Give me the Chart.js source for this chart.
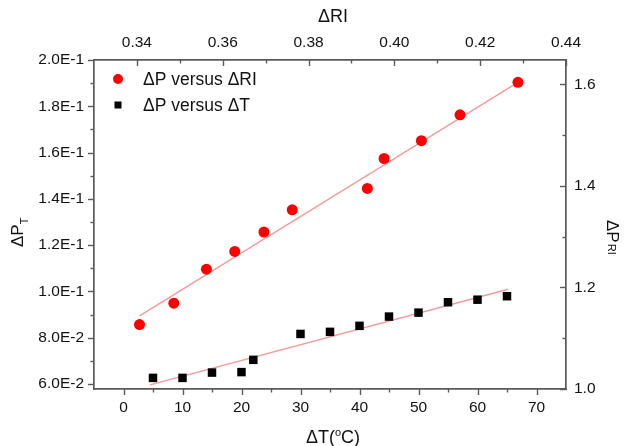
<!DOCTYPE html>
<html>
<head>
<meta charset="utf-8">
<script src="https://cdn.jsdelivr.net/npm/chart.js@4.4.1/dist/chart.umd.min.js"></script>
<style>
html,body{margin:0;padding:0;background:#fff;}
#wrap{width:624px;height:446px;position:relative;}
</style>
</head>
<body>
<div id="wrap"><canvas id="c" width="624" height="446"></canvas></div>
<script>
// ---- data ----
const seriesLabels = ['\u0394P versus \u0394RI', '\u0394P versus \u0394T'];
const riValues  = [0.3406, 0.3486, 0.3562, 0.3628, 0.3696, 0.3762, 0.3937, 0.3976, 0.4063, 0.4153, 0.4288];
const pRiValues = [1.127, 1.169, 1.236, 1.271, 1.309, 1.353, 1.395, 1.454, 1.489, 1.540, 1.604];
const tValues   = [5, 10, 15, 20, 22, 30, 35, 40, 45, 50, 55, 60, 65];
const pTValues  = [0.0626, 0.0626, 0.0649, 0.0651, 0.0704, 0.0816, 0.0825, 0.0851, 0.0891, 0.0908, 0.0953, 0.0964, 0.0979];
const riFitX = [0.3406, 0.4286];
const riFitY = [1.144, 1.603];
const tFitX  = [4.5, 65.2];
const tFitY  = [0.0596, 0.1009];

// ---- tick labels ----
const bottomTicks = [0, 10, 20, 30, 40, 50, 60, 70];
const bottomMinor = [5, 15, 25, 35, 45, 55, 65];
const topTicks    = [0.34, 0.36, 0.38, 0.40, 0.42, 0.44];
const topMinor    = [0.35, 0.37, 0.39, 0.41, 0.43];
const leftTicks   = [0.06, 0.08, 0.10, 0.12, 0.14, 0.16, 0.18, 0.20];
const leftMinor   = [0.07, 0.09, 0.11, 0.13, 0.15, 0.17, 0.19];
const rightTicks  = [1.0, 1.2, 1.4, 1.6];
const rightMinor  = [1.1, 1.3, 1.5];

const FONT = '"Liberation Sans", Arial, Helvetica, sans-serif';
const AX = '#5a5a5a';
const TXT = '#111111';
const FIT = '#f59a9a';

const pts = (xs, ys) => xs.map((x, i) => ({x: x, y: ys[i]}));
const setTicks = arr => (s => { s.ticks = arr.map(v => ({value: v})); });

const tickFont = {family: FONT, size: 15.5};
function baseScale(extra) {
  return Object.assign({
    type: 'linear',
    grid: {display: false, drawTicks: false},
    border: {display: true, color: AX, width: 1.7},
  }, extra);
}

const decor = {
  id: 'decor',
  afterDraw(chart) {
    const ctx = chart.ctx, ca = chart.chartArea, S = chart.scales;
    ctx.save();
    ctx.strokeStyle = AX;
    ctx.lineWidth = 1.4;
    const MAJ = 6, MIN = 3.5;
    function vTick(sc, vals, len, dir, yEdge) {
      vals.forEach(v => {
        const x = Math.round(sc.getPixelForValue(v)) + 0.5;
        ctx.beginPath(); ctx.moveTo(x, yEdge); ctx.lineTo(x, yEdge + dir * len); ctx.stroke();
      });
    }
    function hTick(sc, vals, len, dir, xEdge) {
      vals.forEach(v => {
        const y = Math.round(sc.getPixelForValue(v)) + 0.5;
        ctx.beginPath(); ctx.moveTo(xEdge, y); ctx.lineTo(xEdge + dir * len, y); ctx.stroke();
      });
    }
    vTick(S.x, bottomTicks, MAJ, 1, ca.bottom);
    vTick(S.x, bottomMinor, MIN, 1, ca.bottom);
    vTick(S.xTop, topTicks, MAJ, 1, ca.top);
    vTick(S.xTop, topMinor, MIN, 1, ca.top);
    hTick(S.y, leftTicks, MAJ, -1, ca.left);
    hTick(S.y, leftMinor, MIN, -1, ca.left);
    hTick(S.yRight, rightTicks, MAJ, -1, ca.right);
    hTick(S.yRight, rightMinor, MIN, -1, ca.right);

    // axis titles
    ctx.fillStyle = TXT;
    ctx.textBaseline = 'alphabetic';
    ctx.font = '18px ' + FONT;
    ctx.textAlign = 'center';
    ctx.fillText('\u0394RI', 333, 22);

    const p1 = '\u0394T(', p2 = 'C)';
    ctx.font = '18px ' + FONT;
    const w1 = ctx.measureText(p1).width, w2 = ctx.measureText(p2).width;
    ctx.font = '11px ' + FONT;
    const wo = ctx.measureText('o').width;
    let sx = 333 - (w1 + wo + w2) / 2;
    const by = 443;
    ctx.textAlign = 'left';
    ctx.font = '18px ' + FONT; ctx.fillText(p1, sx, by); sx += w1;
    ctx.font = '11px ' + FONT; ctx.fillText('o', sx, by - 7); sx += wo;
    ctx.font = '18px ' + FONT; ctx.fillText(p2, sx, by);

    // left title ΔP_T
    ctx.save();
    ctx.translate(23, 247);
    ctx.rotate(-Math.PI / 2);
    ctx.font = '17px ' + FONT;
    ctx.fillText('\u0394P', 0, 0);
    const wl = ctx.measureText('\u0394P').width;
    ctx.font = '11px ' + FONT;
    ctx.fillText('T', wl, 5);
    ctx.restore();

    // right title ΔP_RI
    ctx.save();
    ctx.translate(607, 220);
    ctx.rotate(Math.PI / 2);
    ctx.font = '17px ' + FONT;
    ctx.fillText('\u0394P', 0, 0);
    const wr = ctx.measureText('\u0394P').width;
    ctx.font = '11px ' + FONT;
    ctx.fillText('RI', wr + 1, -1);
    ctx.restore();

    // legend
    const ds = chart.data.datasets;
    ctx.font = '17.5px ' + FONT;
    ctx.textBaseline = 'middle';
    ctx.textAlign = 'left';
    const rows = [{y: 79, d: ds[0]}, {y: 105, d: ds[1]}];
    rows.forEach(r => {
      ctx.fillStyle = r.d.backgroundColor;
      if (r.d.pointStyle === 'rect') {
        ctx.fillRect(118 - 3.5, r.y - 3.5, 7, 7);
      } else {
        ctx.beginPath(); ctx.arc(118, r.y, 5, 0, Math.PI * 2); ctx.fill();
      }
      ctx.fillStyle = TXT;
      ctx.fillText(r.d.label, 143, r.y + 1);
    });
    ctx.restore();
  }
};

new Chart(document.getElementById('c'), {
  type: 'scatter',
  data: {
    datasets: [
      {label: seriesLabels[0], data: pts(riValues, pRiValues), xAxisID: 'xTop', yAxisID: 'yRight',
       pointStyle: 'circle', pointRadius: 5.5, backgroundColor: '#ff0000', borderColor: '#ff0000', borderWidth: 0, order: 1},
      {label: seriesLabels[1], data: pts(tValues, pTValues), xAxisID: 'x', yAxisID: 'y',
       pointStyle: 'rect', pointRadius: 6, backgroundColor: '#000000', borderColor: '#000000', borderWidth: 0, order: 1},
      {label: 'fitRI', data: pts(riFitX, riFitY), xAxisID: 'xTop', yAxisID: 'yRight', showLine: true,
       pointRadius: 0, borderColor: FIT, borderWidth: 1.4, backgroundColor: FIT, order: 2},
      {label: 'fitT', data: pts(tFitX, tFitY), xAxisID: 'x', yAxisID: 'y', showLine: true,
       pointRadius: 0, borderColor: FIT, borderWidth: 1.4, backgroundColor: FIT, order: 2}
    ]
  },
  options: {
    responsive: false,
    animation: false,
    devicePixelRatio: 1,
    layout: {padding: 0},
    plugins: {legend: {display: false}, tooltip: {enabled: false}},
    scales: {
      x: baseScale({position: 'bottom', min: -5, max: 75,
        afterBuildTicks: setTicks(bottomTicks),
        ticks: {font: tickFont, color: TXT, padding: 9, maxRotation: 0, autoSkip: false, callback: v => String(v)},
        afterFit: s => { s.height = 57; s.paddingLeft = 0; s.paddingRight = 0; }}),
      xTop: baseScale({position: 'top', min: 0.33, max: 0.44,
        afterBuildTicks: setTicks(topTicks),
        ticks: {font: tickFont, color: TXT, padding: 8, maxRotation: 0, autoSkip: false, callback: v => v.toFixed(2)},
        afterFit: s => { s.height = 60; s.paddingLeft = 0; s.paddingRight = 0; }}),
      y: baseScale({position: 'left', min: 0.0578, max: 0.2,
        afterBuildTicks: setTicks(leftTicks),
        ticks: {font: tickFont, color: TXT, padding: 10, autoSkip: false, callback: v => v.toExponential(1).replace('e', 'E').replace('+', '')},
        afterFit: s => { s.width = 94; s.paddingTop = 0; s.paddingBottom = 0; }}),
      yRight: baseScale({position: 'right', min: 1.0, max: 1.648,
        afterBuildTicks: setTicks(rightTicks),
        ticks: {font: tickFont, color: TXT, padding: 8, autoSkip: false, callback: v => v.toFixed(1)},
        afterFit: s => { s.width = 58; s.paddingTop = 0; s.paddingBottom = 0; }})
    }
  },
  plugins: [decor]
});
</script>
</body>
</html>
